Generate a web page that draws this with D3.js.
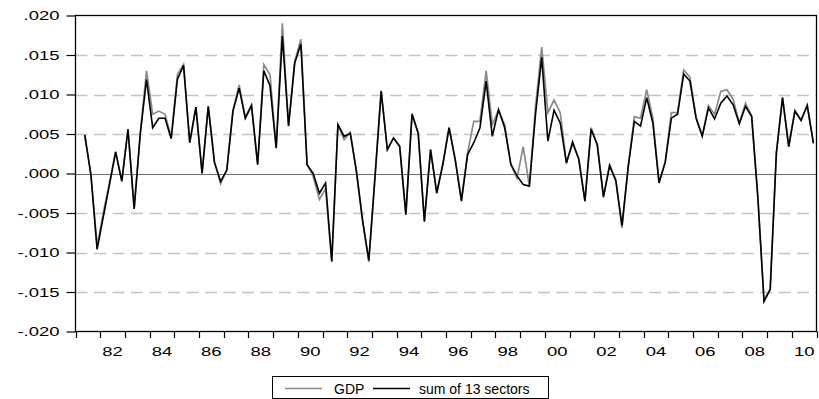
<!DOCTYPE html>
<html>
<head>
<meta charset="utf-8">
<script src="https://cdn.jsdelivr.net/npm/d3@7"></script>
<style>
  html, body { margin: 0; padding: 0; background: #fff; }
  svg { display: block; }
  text { font-family: "Liberation Sans", Arial, Helvetica, sans-serif; }
</style>
</head>
<body>
<svg id="chart" width="819" height="399"></svg>
<script>
// ---- data (quarterly growth, 1981Q2 .. 2010Q4) ----
const firstYear = 1981, lastYear = 2010;
const firstDataQuarter = "1981Q2";

const gdp = [
  0.0049, -0.0001, -0.0092, -0.0050, -0.0012, 0.0028, -0.0009,
  0.0056, -0.0044, 0.0052, 0.0130,
  0.0075, 0.0079, 0.0075, 0.0046,
  0.0125, 0.0138, 0.0039, 0.0084,
  0.0001, 0.0085, 0.0015, -0.0013,
  0.0005, 0.0080, 0.0112, 0.0071,
  0.0087, 0.0012, 0.0138, 0.0125,
  0.0033, 0.0190, 0.0061, 0.0142,
  0.0170, 0.0012, -0.0004, -0.0033,
  -0.0019, -0.0112, 0.0062, 0.0043,
  0.0052, 0.0003, -0.0060, -0.0112,
  -0.0004, 0.0105, 0.0031, 0.0045,
  0.0035, -0.0052, 0.0076, 0.0051,
  -0.0060, 0.0031, -0.0024, 0.0013,
  0.0058, 0.0018, -0.0033, 0.0026,
  0.0066, 0.0066, 0.0130, 0.0062,
  0.0080, 0.0062, 0.0011, -0.0006,
  0.0034, -0.0016, 0.0085, 0.0160,
  0.0077, 0.0093, 0.0077, 0.0014,
  0.0037, 0.0019, -0.0035, 0.0058,
  0.0037, -0.0029, 0.0011, -0.0008,
  -0.0069, 0.0008, 0.0072, 0.0070,
  0.0106, 0.0070, -0.0011, 0.0015,
  0.0077, 0.0077, 0.0131, 0.0122,
  0.0071, 0.0048, 0.0086, 0.0075,
  0.0104, 0.0106, 0.0094, 0.0064,
  0.0089, 0.0073, -0.0030, -0.0160,
  -0.0146, 0.0026, 0.0096, 0.0034,
  0.0080, 0.0068, 0.0087, 0.0039
];

const sumOf13Sectors = [
  0.0049, -0.0002, -0.0096, -0.0055, -0.0014, 0.0027, -0.0010,
  0.0056, -0.0045, 0.0051, 0.0119,
  0.0058, 0.0070, 0.0070, 0.0044,
  0.0119, 0.0137, 0.0039, 0.0084,
  0.0000, 0.0085, 0.0014, -0.0010,
  0.0004, 0.0079, 0.0108, 0.0070,
  0.0086, 0.0011, 0.0130, 0.0111,
  0.0032, 0.0174, 0.0060, 0.0140,
  0.0164, 0.0011, 0.0000, -0.0025,
  -0.0012, -0.0111, 0.0062, 0.0047,
  0.0051, 0.0002, -0.0060, -0.0110,
  -0.0005, 0.0104, 0.0030, 0.0045,
  0.0034, -0.0052, 0.0075, 0.0051,
  -0.0061, 0.0030, -0.0025, 0.0012,
  0.0058, 0.0017, -0.0035, 0.0024,
  0.0039, 0.0058, 0.0117, 0.0047,
  0.0081, 0.0058, 0.0012, -0.0003,
  -0.0014, -0.0016, 0.0075, 0.0147,
  0.0041, 0.0080, 0.0064, 0.0013,
  0.0040, 0.0018, -0.0035, 0.0056,
  0.0036, -0.0030, 0.0010, -0.0009,
  -0.0066, 0.0008, 0.0066, 0.0060,
  0.0096, 0.0064, -0.0012, 0.0014,
  0.0070, 0.0075, 0.0126, 0.0117,
  0.0070, 0.0047, 0.0083, 0.0069,
  0.0089, 0.0098, 0.0087, 0.0063,
  0.0085, 0.0072, -0.0030, -0.0162,
  -0.0147, 0.0026, 0.0096, 0.0034,
  0.0079, 0.0067, 0.0086, 0.0038
];

const yTickValues = [0.020, 0.015, 0.010, 0.005, 0.000, -0.005, -0.010, -0.015, -0.020];
const yTickLabels = [".020", ".015", ".010", ".005", ".000", "-.005", "-.010", "-.015", "-.020"];
const xTickLabels = ["82", "84", "86", "88", "90", "92", "94", "96", "98", "00", "02", "04", "06", "08", "10"];
const seriesNames = ["GDP", "sum of 13 sectors"];

// ---- categories: every quarter on the axis ----
const quarters = [];
for (let y = firstYear; y <= lastYear; y++) for (let q = 1; q <= 4; q++) quarters.push(y + "Q" + q);
const startIdx = quarters.indexOf(firstDataQuarter);
const dataQuarters = quarters.slice(startIdx, startIdx + gdp.length);

// ---- layout ----
const L = 75.5, R = 816.5, T = 15.5, B = 331.5;
const svg = d3.select("#chart");

const x = d3.scaleBand().domain(quarters).range([L, R]).padding(0);
const y = d3.scaleLinear().domain([-0.02, 0.02]).range([B, T]);
const xc = q => x(q) + x.bandwidth() / 2;

// grid lines
svg.append("g").selectAll("line")
  .data(yTickValues.filter(v => Math.abs(v) > 1e-9 && Math.abs(v) < 0.0199))
  .join("line")
  .attr("x1", L).attr("x2", R)
  .attr("y1", d => Math.round(y(d)) + 0.5).attr("y2", d => Math.round(y(d)) + 0.5)
  .attr("stroke", "#c4c4c4").attr("stroke-width", 1.6)
  .attr("stroke-dasharray", "12,6.5");

// zero line
svg.append("line")
  .attr("x1", L).attr("x2", R)
  .attr("y1", Math.round(y(0)) + 0.5).attr("y2", Math.round(y(0)) + 0.5)
  .attr("stroke", "#6e6e6e").attr("stroke-width", 1.2);

// y axis
const yAxis = d3.axisLeft(y).tickValues(yTickValues)
  .tickFormat((d, i) => yTickLabels[i]).tickSize(9).tickPadding(7);
const gy = svg.append("g").attr("transform", `translate(${L},0)`).call(yAxis);
gy.select(".domain").remove();
gy.selectAll(".tick line").attr("stroke", "#000").attr("stroke-width", 1.2);
gy.selectAll(".tick text")
  .attr("font-size", 13).attr("fill", "#000")
  .attr("font-family", "Liberation Sans, Arial, sans-serif")
  .each(function () {
    const t = d3.select(this);
    const xx = +t.attr("x");
    t.attr("x", null).attr("transform", `translate(${xx},0) scale(1.42,1)`);
  });

// x axis: year boundary ticks + labels centred in year
const yearStarts = d3.range(firstYear, lastYear + 1).map(yr => x(yr + "Q1")).concat([R]);
svg.append("g").selectAll("line").data(yearStarts).join("line")
  .attr("x1", d => Math.round(d) + 0.5).attr("x2", d => Math.round(d) + 0.5)
  .attr("y1", B).attr("y2", B + 6.5)
  .attr("stroke", "#000").attr("stroke-width", 1.2);

svg.append("g").selectAll("text").data(xTickLabels).join("text")
  .attr("transform", d => {
    const yr = (+d < 50 ? 2000 : 1900) + (+d);
    const cx = x(yr + "Q1") + 2 * x.bandwidth();
    return `translate(${cx},355.5) scale(1.42,1)`;
  })
  .attr("text-anchor", "middle").attr("font-size", 13).attr("fill", "#000")
  .text(d => d);

// frame
svg.append("rect").attr("x", L).attr("y", T).attr("width", R - L).attr("height", B - T)
  .attr("fill", "none").attr("stroke", "#000").attr("stroke-width", 1.3);

// series
const line = vals => d3.line().x((d, i) => xc(dataQuarters[i])).y(d => y(d))(vals);
svg.append("path").attr("d", line(gdp))
  .attr("fill", "none").attr("stroke", "#8a8a8a").attr("stroke-width", 1.7)
  .attr("stroke-linejoin", "miter");
svg.append("path").attr("d", line(sumOf13Sectors))
  .attr("fill", "none").attr("stroke", "#000").attr("stroke-width", 1.6)
  .attr("stroke-linejoin", "miter");

// legend
const lg = svg.append("g");
lg.append("rect").attr("x", 272.5).attr("y", 376.5).attr("width", 276).attr("height", 22)
  .attr("fill", "#fff").attr("stroke", "#000").attr("stroke-width", 1);
const items = [
  { name: seriesNames[0], color: "#8a8a8a", x0: 285, tx: 334 },
  { name: seriesNames[1], color: "#000", x0: 373, tx: 419 }
];
items.forEach(it => {
  lg.append("line").attr("x1", it.x0).attr("x2", it.x0 + 37).attr("y1", 388.5).attr("y2", 388.5)
    .attr("stroke", it.color).attr("stroke-width", 1.4);
  lg.append("text").attr("x", it.tx).attr("y", 393.5).attr("font-size", 14).attr("fill", "#000")
    .text(it.name);
});
</script>
</body>
</html>
